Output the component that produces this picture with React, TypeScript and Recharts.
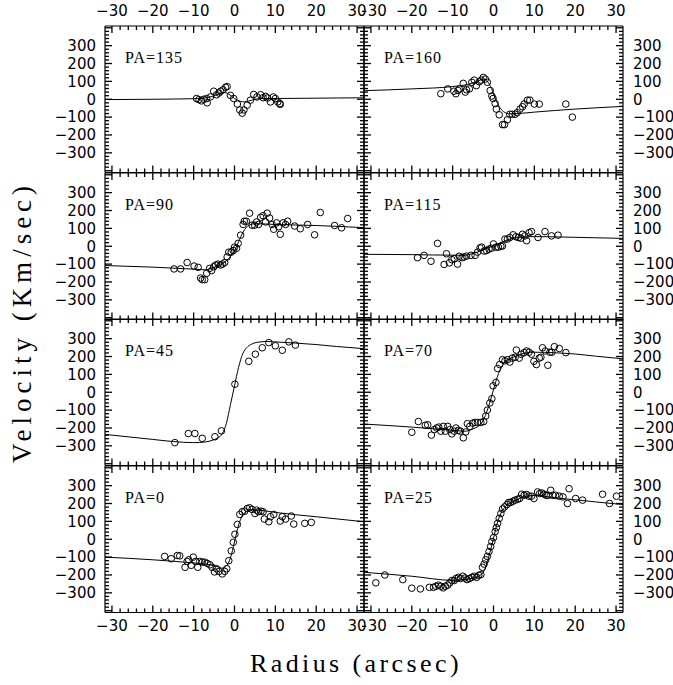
import React from 'react';
import { ComposedChart, Line, ReferenceLine, Scatter, XAxis, YAxis } from 'recharts';

type Pt = [number, number];

// observed velocities, [radius (arcsec), velocity (km/s)]
const pa135Obs: Pt[] = [
  [-9.3, 4], [-8.7, -2], [-8.1, -9], [-7.5, 0], [-6.7, -20], [-6.8, 4], [-5.9, 13], [-5.1, 45],
  [-4.4, 25], [-3.8, 35], [-3.4, 45], [-2.8, 53], [-2.2, 67], [-1.8, 71], [-1, 22], [-0.2, 4],
  [0.7, -27], [1.3, -60], [1.9, -78], [2.3, -60], [3.1, -33], [3.9, -5], [4.7, 27], [5.5, 13],
  [6.4, 25], [7, 9], [7.6, 16], [8.1, 7], [8.8, -15], [9.5, 13], [10, 4], [10.6, -15], [11.1, -24], [11.2, -29],
];
const pa160Obs: Pt[] = [
  [-12.9, 31], [-11.2, 58], [-9.7, 45], [-9.2, 31], [-8.7, 49], [-8.4, 58], [-7.4, 89], [-6.9, 40],
  [-6.6, 53], [-5.9, 58], [-5.3, 95], [-4.7, 107], [-4.2, 76], [-3.5, 98], [-3, 107], [-2.5, 122],
  [-2, 113], [-1.5, 95], [-0.8, 49], [-0.4, 18], [-0.1, 4], [0.4, -24], [0.7, -55], [1.4, -87],
  [2.2, -142], [2.7, -142], [3.4, -115], [4, -84], [4.6, -84], [5.3, -84], [5.8, -75], [6.5, -55],
  [7.1, -42], [7.5, -27], [8.3, -5], [8.9, -5], [10, -27], [11.2, -27], [17.7, -27], [19.3, -100],
];
const pa90Obs: Pt[] = [
  [-14.8, -127], [-13.2, -127], [-11.6, -91], [-9.9, -111], [-8.9, -118], [-8.3, -178], [-7.9, -187],
  [-7.3, -187], [-6.8, -151], [-6.1, -124], [-5.6, -136], [-5.1, -115], [-4.6, -105], [-4, -100],
  [-3.4, -105], [-2.9, -100], [-2.4, -91], [-1.8, -60], [-1.4, -33], [-0.8, -33], [-0.3, -24], [0, -5],
  [0.5, -11], [0.9, 16], [1.5, 62], [2.1, 122], [2.4, 140], [2.9, 140], [3.7, 185], [4.3, 118],
  [4.9, 118], [5.4, 136], [5.9, 122], [6.4, 162], [7, 171], [7.6, 136], [8, 185], [8.6, 158],
  [9.2, 122], [9.6, 95], [10.3, 131], [10.8, 109], [11.2, 67], [11.9, 131], [12.5, 122], [13, 140],
  [14.7, 113], [16.1, 98], [17.9, 122], [19.6, 64], [21, 189], [24.5, 116], [26.2, 103], [27.7, 155],
];
const pa115Obs: Pt[] = [
  [-18.6, -64], [-17, -51], [-15.3, -84], [-13.7, 16], [-12.1, -102], [-11.5, -42], [-10.8, -93],
  [-10.2, -75], [-9.6, -69], [-8.8, -100], [-8.4, -56], [-7.7, -64], [-7.2, -60], [-6.6, -55],
  [-5.5, -51], [-4.5, -51], [-3.9, -33], [-3.3, -9], [-2.9, -5], [-2.3, -27], [-1.7, -24], [-1.1, -16],
  [-0.5, -11], [0, 13], [0.6, -5], [1.2, -5], [1.8, 0], [2.2, 2], [2.8, 40], [3.4, 40], [4, 49],
  [4.8, 64], [5.5, 53], [6.1, 49], [6.7, 45], [7.1, 67], [7.7, 58], [8.1, 31], [8.7, 76], [9.3, 82],
  [10.9, 49], [12.6, 82], [14.2, 58], [15.8, 62],
];
const pa45Obs: Pt[] = [
  [-14.6, -282], [-11.3, -231], [-9.7, -231], [-7.9, -258], [-4.8, -249], [-3.2, -216], [0.1, 45],
  [3.5, 173], [5.1, 213], [6.8, 249], [8.4, 278], [10, 260], [11.7, 235], [13.3, 282], [14.9, 264],
];
const pa70Obs: Pt[] = [
  [-20, -224], [-18.4, -164], [-16.7, -185], [-16.1, -182], [-15.2, -240], [-14.5, -209], [-13.9, -200],
  [-13.4, -195], [-12.9, -218], [-12.3, -191], [-11.8, -218], [-11.2, -191], [-10.7, -209], [-10.2, -233],
  [-9.6, -218], [-9.2, -200], [-8.6, -213], [-8.1, -218], [-7.4, -255], [-6.8, -222], [-6.4, -176],
  [-5.8, -191], [-5.1, -173], [-4.5, -169], [-3.9, -169], [-3.1, -169], [-2.4, -164], [-1.9, -133],
  [-1.5, -100], [-0.9, -60], [-0.4, -36], [-0.1, 36], [0.6, 55], [1, 133], [1.5, 155], [2.2, 182],
  [2.8, 176], [3.4, 182], [4, 169], [4.6, 191], [5.3, 196], [5.6, 236], [6.3, 191], [6.8, 213],
  [7.5, 222], [8.1, 231], [8.7, 224], [9.3, 213], [9.9, 173], [10.5, 155], [11.2, 191], [11.6, 196],
  [12, 249], [12.7, 231], [13.3, 151], [13.8, 224], [14.3, 224], [14.9, 255], [16.1, 245], [17.7, 222],
];
const pa0Obs: Pt[] = [
  [-17.1, -96], [-15.5, -109], [-14, -91], [-13.4, -93], [-12.1, -157], [-11.6, -124], [-11.2, -115],
  [-10.6, -146], [-10.1, -100], [-9.5, -124], [-9, -157], [-8.5, -124], [-7.9, -128], [-7.3, -128],
  [-6.7, -135], [-6, -143], [-5.5, -157], [-4.9, -183], [-4.4, -165], [-3.8, -180], [-3, -194],
  [-2.4, -180], [-1.9, -165], [-1.4, -120], [-0.8, -65], [-0.3, -17], [0.1, 28], [0.7, 83], [1.3, 139],
  [1.9, 154], [2.5, 157], [3.1, 172], [3.7, 176], [4.3, 167], [5, 144], [5.4, 163], [5.9, 154],
  [6.5, 157], [7, 154], [7.3, 113], [8.4, 98], [8.8, 126], [9.6, 139], [11.2, 102], [11.7, 126],
  [12.5, 113], [13.9, 130], [14.5, 85], [17.2, 89], [18.8, 94],
];
const pa25Obs: Pt[] = [
  [-28.8, -244], [-26.6, -200], [-22.2, -226], [-20, -274], [-17.9, -278], [-15.7, -269], [-14.7, -269],
  [-14.1, -263], [-13.5, -257], [-12.9, -263], [-12.3, -272], [-11.8, -263], [-11.2, -257], [-10.7, -244],
  [-10.2, -231], [-9.6, -231], [-9.2, -220], [-8.6, -213], [-8.1, -220], [-7.5, -207], [-7, -217],
  [-6.5, -226], [-5.9, -220], [-5.3, -213], [-4.7, -207], [-4.1, -213], [-3.6, -202], [-3.1, -198],
  [-2.7, -157], [-2.3, -139], [-1.9, -115], [-1.5, -96], [-1.1, -69], [-0.7, -41], [-0.4, -13], [0, 9],
  [0.4, 43], [0.7, 65], [1, 89], [1.4, 117], [1.8, 144], [2.2, 169], [2.7, 181], [3.3, 194], [3.7, 206],
  [4.2, 206], [4.8, 213], [5.3, 219], [5.9, 224], [6.4, 228], [6.9, 252], [7.5, 246], [8.1, 250],
  [8.7, 241], [9.3, 241], [9.9, 228], [10.8, 265], [11.3, 256], [11.8, 259], [12.4, 252], [12.9, 246],
  [13.4, 246], [14, 274], [14.5, 246], [15.2, 246], [16.1, 241], [17, 237], [18.1, 200], [18.5, 283],
  [20.1, 228], [21.8, 219], [26.7, 252], [28.4, 200], [30.1, 241],
];

// model curves
const pa135Model: Pt[] = [
  [-31.7, -2], [-20, 0], [-10, 3], [-6, 12], [-4, 28], [-2.5, 38], [-1.5, 30], [0, 5], [1.5, -12],
  [2.5, -15], [3.5, -10], [5, 0], [7, 4], [15, 5], [25, 7], [31.7, 8],
];
const pa160Model: Pt[] = [
  [-31.7, 48], [-20, 58], [-10, 71], [-6, 85], [-4, 100], [-2.5, 112], [-1.5, 100], [-0.5, 60], [0.5, 0],
  [1.5, -45], [2.5, -70], [4, -82], [6, -80], [10, -72], [20, -55], [31.7, -40],
];
const pa90Model: Pt[] = [
  [-31.7, -108], [-20, -117], [-10, -128], [-7, -132], [-5, -118], [-3, -98], [-1.5, -70], [0, -25],
  [1, 25], [2, 75], [3, 108], [4, 122], [5, 126], [7, 125], [10, 122], [20, 116], [31.7, 104],
];
const pa115Model: Pt[] = [
  [-31.7, -45], [-20, -47], [-10, -50], [-7, -50], [-5, -40], [-3, -25], [0, 3], [3, 32], [5, 45],
  [7, 52], [10, 54], [20, 50], [31.7, 44],
];
const pa45Model: Pt[] = [
  [-31.7, -236], [-20, -264], [-15, -276], [-10, -282], [-7, -278], [-5, -265], [-4, -255], [-3, -232],
  [-2, -175], [-1, -70], [0, 35], [1, 140], [2, 215], [3, 250], [4, 267], [6, 281], [8, 284], [10, 282],
  [15, 275], [20, 267], [25, 256], [31.7, 244],
];
const pa70Model: Pt[] = [
  [-31.7, -178], [-20, -195], [-10, -213], [-7, -218], [-5, -205], [-3, -175], [-2, -130], [-1, -65],
  [0, 15], [1, 90], [2, 143], [3, 172], [5, 198], [8, 220], [10, 224], [15, 221], [20, 214], [25, 202],
  [31.7, 187],
];
const pa0Model: Pt[] = [
  [-31.7, -100], [-20, -115], [-10, -133], [-6, -143], [-4, -155], [-3, -162], [-2, -150], [-1, -105],
  [0, -15], [1, 80], [2, 135], [3, 157], [4, 166], [6, 163], [10, 150], [20, 126], [31.7, 98],
];
const pa25Model: Pt[] = [
  [-31.7, -185], [-20, -207], [-10, -230], [-7, -226], [-5, -217], [-3, -198], [-2, -160], [-1, -85],
  [0, 5], [1, 97], [2, 153], [3, 185], [5, 213], [8, 240], [10, 246], [12, 242], [15, 232], [20, 221],
  [25, 209], [31.7, 194],
];

const xLabelTicks = [-30, -20, -10, 0, 10, 20, 30];
const yLabelTicks = [-300, -200, -100, 0, 100, 200, 300];
const X_DOMAIN: [number, number] = [-31.7, 31.7];
const Y_DOMAIN: [number, number] = [-410, 410];

const steps = (from: number, to: number, step: number) => {
  const out: number[] = [];
  for (let v = from; v <= to + 1e-9; v += step) out.push(Math.round(v * 100) / 100);
  return out;
};
const xTicks = steps(-30, 30, 2);
const yTicks = steps(-400, 400, 20);

const panels = [
  { label: 'PA=135', obs: pa135Obs, model: pa135Model, col: 0, row: 0 },
  { label: 'PA=160', obs: pa160Obs, model: pa160Model, col: 1, row: 0 },
  { label: 'PA=90', obs: pa90Obs, model: pa90Model, col: 0, row: 1 },
  { label: 'PA=115', obs: pa115Obs, model: pa115Model, col: 1, row: 1 },
  { label: 'PA=45', obs: pa45Obs, model: pa45Model, col: 0, row: 2 },
  { label: 'PA=70', obs: pa70Obs, model: pa70Model, col: 1, row: 2 },
  { label: 'PA=0', obs: pa0Obs, model: pa0Model, col: 0, row: 3 },
  { label: 'PA=25', obs: pa25Obs, model: pa25Model, col: 1, row: 3 },
];

const PLOT_LEFT = [105, 364];
const PLOT_W = 259;
const PLOT_TOP = 26;
const PLOT_H = 146.5;
const M = 2;
const MAJOR_PX = 7;
const MINOR_PX = 4;
const TICK_FONT = '"DejaVu Sans", sans-serif';
const SERIF = '"Liberation Serif", "DejaVu Serif", serif';

const fmt = (v: number) => (v < 0 ? '\u2212' + Math.abs(v) : String(v));
const tickLabel = (v: number, position: string, offset: number) => ({
  value: fmt(v),
  position,
  offset,
  fill: '#000',
  fontSize: 15,
  fontFamily: TICK_FONT,
});

const frameLine = (props: any) => (
  <line x1={props.x1} y1={props.y1} x2={props.x2} y2={props.y2} stroke="#000" strokeWidth={1.2} />
);

// tick marks: small filled bars standing on the frame, pointing inward
const tickMark = (dx: number, dy: number) => (props: any) => {
  const len = props.payload && props.payload.major ? MAJOR_PX : MINOR_PX;
  const w = 1.3;
  const x = dx === 0 ? props.cx - w / 2 : dx > 0 ? props.cx : props.cx - len;
  const y = dy === 0 ? props.cy - w / 2 : dy > 0 ? props.cy : props.cy - len;
  return <rect x={x} y={y} width={dx === 0 ? w : len} height={dy === 0 ? w : len} fill="#000" />;
};
const markUp = tickMark(0, -1);
const markDown = tickMark(0, 1);
const markRight = tickMark(1, 0);
const markLeft = tickMark(-1, 0);

const ring = (props: any) => (
  <circle cx={props.cx} cy={props.cy} r={3.3} fill="none" stroke="#000" strokeWidth={1} />
);

function Panel({ p }: { p: (typeof panels)[number] }) {
  const isLeft = p.col === 0;
  const isTop = p.row === 0;
  const isBottom = p.row === 3;
  const margin = {
    top: isTop ? 26 : M,
    bottom: isBottom ? 26 : M,
    left: isLeft ? 62 : M,
    right: isLeft ? M : 62,
  };
  const plotX = PLOT_LEFT[p.col];
  const plotY = PLOT_TOP + p.row * PLOT_H;
  const obs = p.obs.map(([x, v]) => ({ x, v }));
  const model = p.model.map(([x, v]) => ({ x, v }));
  const seg = { xAxisId: 'b', yAxisId: 'l', stroke: '#000', strokeWidth: 1, ifOverflow: 'visible' as const, shape: frameLine };
  const [x0, x1] = X_DOMAIN;
  const [y0, y1] = Y_DOMAIN;
  const bottomTicks = xTicks.map((t) => ({ x: t, v: y0, major: Math.abs(t % 10) < 1e-6 }));
  const topTicks = xTicks.map((t) => ({ x: t, v: y1, major: Math.abs(t % 10) < 1e-6 }));
  const leftTicks = yTicks.map((t) => ({ x: x0, v: t, major: Math.abs(t % 100) < 1e-6 }));
  const rightTicks = yTicks.map((t) => ({ x: x1, v: t, major: Math.abs(t % 100) < 1e-6 }));

  return (
    <>
      <div style={{ position: 'absolute', left: plotX - margin.left, top: plotY - margin.top }}>
        <ComposedChart
          width={PLOT_W + margin.left + margin.right}
          height={PLOT_H + margin.top + margin.bottom}
          margin={margin}
        >
          <XAxis xAxisId="b" type="number" dataKey="x" domain={X_DOMAIN} allowDataOverflow hide />
          <YAxis yAxisId="l" type="number" dataKey="v" domain={Y_DOMAIN} allowDataOverflow hide />
          {/* frame */}
          <ReferenceLine {...seg} segment={[{ x: x0, y: y0 }, { x: x1, y: y0 }]} />
          <ReferenceLine {...seg} segment={[{ x: x0, y: y1 }, { x: x1, y: y1 }]} />
          <ReferenceLine {...seg} segment={[{ x: x0, y: y0 }, { x: x0, y: y1 }]} />
          <ReferenceLine {...seg} segment={[{ x: x1, y: y0 }, { x: x1, y: y1 }]} />
          {/* tick labels on the outer sides */}
          {isBottom && xLabelTicks.map((t) => (
            <ReferenceLine key={'xb' + t} {...seg} segment={[{ x: t, y: y0 }, { x: t, y: y0 }]}
              label={tickLabel(t, 'bottom', 8)} />
          ))}
          {isTop && xLabelTicks.map((t) => (
            <ReferenceLine key={'xt' + t} {...seg} segment={[{ x: t, y: y1 }, { x: t, y: y1 }]}
              label={tickLabel(t, 'top', 10)} />
          ))}
          {isLeft && yLabelTicks.map((t) => (
            <ReferenceLine key={'yl' + t} {...seg} segment={[{ x: x0, y: t }, { x: x0, y: t }]}
              label={tickLabel(t, 'left', 9)} />
          ))}
          {!isLeft && yLabelTicks.map((t) => (
            <ReferenceLine key={'yr' + t} {...seg} segment={[{ x: x1, y: t }, { x: x1, y: t }]}
              label={tickLabel(t, 'right', 10)} />
          ))}
          {/* inward tick marks on all four sides */}
          <Scatter xAxisId="b" yAxisId="l" data={bottomTicks} dataKey="v" shape={markUp} isAnimationActive={false} />
          <Scatter xAxisId="b" yAxisId="l" data={topTicks} dataKey="v" shape={markDown} isAnimationActive={false} />
          <Scatter xAxisId="b" yAxisId="l" data={leftTicks} dataKey="v" shape={markRight} isAnimationActive={false} />
          <Scatter xAxisId="b" yAxisId="l" data={rightTicks} dataKey="v" shape={markLeft} isAnimationActive={false} />
          <Line xAxisId="b" yAxisId="l" data={model} dataKey="v" type="monotone" stroke="#000"
            strokeWidth={1} dot={false} activeDot={false} isAnimationActive={false} />
          <Scatter xAxisId="b" yAxisId="l" data={obs} dataKey="v" shape={ring} isAnimationActive={false} />
        </ComposedChart>
      </div>
      <div
        style={{
          position: 'absolute',
          left: plotX + 20,
          top: plotY + 24,
          fontFamily: SERIF,
          fontSize: 16,
          lineHeight: '16px',
          letterSpacing: 1,
          whiteSpace: 'nowrap',
        }}
      >
        {p.label}
      </div>
    </>
  );
}

export default function App() {
  return (
    <div
      style={{
        position: 'absolute',
        left: 0,
        top: 0,
        width: 673,
        height: 685,
        background: '#fff',
        overflow: 'hidden',
      }}
    >
      {panels.map((p) => (
        <Panel key={p.label} p={p} />
      ))}
      <div
        style={{
          position: 'absolute',
          left: 22,
          top: 322,
          transform: 'translate(-50%, -50%) rotate(-90deg)',
          fontFamily: SERIF,
          fontSize: 27,
          letterSpacing: 5,
          whiteSpace: 'nowrap',
        }}
      >
        Velocity (Km/sec)
      </div>
      <div
        style={{
          position: 'absolute',
          left: 356,
          top: 664,
          transform: 'translate(-50%, -50%)',
          fontFamily: SERIF,
          fontSize: 26,
          letterSpacing: 3.4,
          whiteSpace: 'nowrap',
        }}
      >
        Radius (arcsec)
      </div>
    </div>
  );
}
